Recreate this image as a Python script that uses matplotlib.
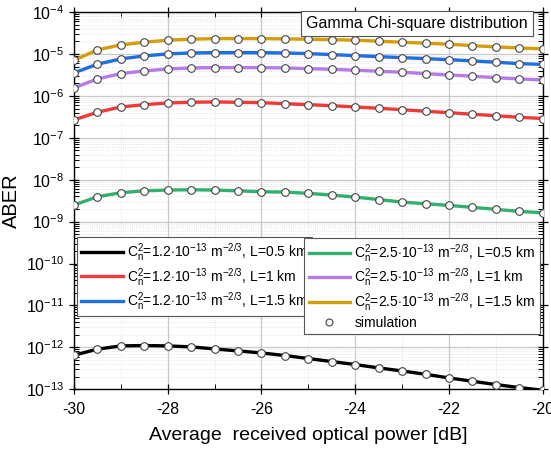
import numpy as np
import matplotlib
matplotlib.use("Agg")
import matplotlib.pyplot as plt
from matplotlib.ticker import MultipleLocator, LogLocator, NullFormatter
from matplotlib.lines import Line2D

plt.rcParams['font.family'] = ['Liberation Sans', 'DejaVu Sans']
plt.rcParams['mathtext.fontset'] = 'custom'
plt.rcParams['mathtext.rm'] = 'Liberation Sans'
plt.rcParams['mathtext.it'] = 'Liberation Sans'
plt.rcParams['axes.unicode_minus'] = False

power_db = [-30, -29.5, -29, -28.5, -28, -27.5, -27, -26.5, -26, -25.5, -25,
            -24.5, -24, -23.5, -23, -22.5, -22, -21.5, -21, -20.5, -20]

# log10(ABER)
log_c12_L05 = [-12.189, -12.045, -11.966, -11.957, -11.966, -11.990, -12.038, -12.086, -12.134, -12.196, -12.268,
               -12.339, -12.411, -12.492, -12.564, -12.643, -12.731, -12.810, -12.889, -12.961, -13.025]
log_c12_L1 = [-6.573, -6.389, -6.263, -6.208, -6.167, -6.151, -6.143, -6.151, -6.160, -6.184, -6.208,
              -6.232, -6.263, -6.294, -6.327, -6.366, -6.399, -6.437, -6.471, -6.509, -6.538]
log_c12_L15 = [-5.450, -5.243, -5.116, -5.044, -4.996, -4.973, -4.965, -4.965, -4.965, -4.973, -4.989,
               -5.013, -5.037, -5.061, -5.085, -5.109, -5.133, -5.164, -5.195, -5.228, -5.247]
log_c25_L05 = [-8.605, -8.406, -8.311, -8.263, -8.246, -8.239, -8.246, -8.263, -8.287, -8.294, -8.325,
               -8.366, -8.413, -8.473, -8.533, -8.573, -8.612, -8.659, -8.707, -8.755, -8.789]
log_c25_L1 = [-5.809, -5.594, -5.467, -5.403, -5.355, -5.331, -5.324, -5.324, -5.324, -5.331, -5.348,
              -5.362, -5.386, -5.410, -5.434, -5.467, -5.498, -5.529, -5.563, -5.594, -5.618]
log_c25_L15 = [-5.152, -4.901, -4.781, -4.717, -4.669, -4.645, -4.631, -4.631, -4.631, -4.638, -4.645,
               -4.655, -4.669, -4.693, -4.717, -4.741, -4.765, -4.798, -4.829, -4.853, -4.877]

labels_c12 = [r'C$_\mathregular{n}^\mathregular{2}$=1.2$\cdot$10$^{\mathregular{-13}}$ m$^{\mathregular{-2/3}}$, L=0.5 km',
              r'C$_\mathregular{n}^\mathregular{2}$=1.2$\cdot$10$^{\mathregular{-13}}$ m$^{\mathregular{-2/3}}$, L=1 km',
              r'C$_\mathregular{n}^\mathregular{2}$=1.2$\cdot$10$^{\mathregular{-13}}$ m$^{\mathregular{-2/3}}$, L=1.5 km']
labels_c25 = [r'C$_\mathregular{n}^\mathregular{2}$=2.5$\cdot$10$^{\mathregular{-13}}$ m$^{\mathregular{-2/3}}$, L=0.5 km',
              r'C$_\mathregular{n}^\mathregular{2}$=2.5$\cdot$10$^{\mathregular{-13}}$ m$^{\mathregular{-2/3}}$, L=1 km',
              r'C$_\mathregular{n}^\mathregular{2}$=2.5$\cdot$10$^{\mathregular{-13}}$ m$^{\mathregular{-2/3}}$, L=1.5 km']
colors_c12 = ['#000000', '#f03a3a', '#1f6fe0']
colors_c25 = ['#33b06e', '#b57ce6', '#d39d0c']

x = np.array(power_db)
fig = plt.figure(figsize=(5.51, 4.51), dpi=100)
ax = fig.add_axes([0.134, 0.137, 0.851, 0.836])

series_c12 = [log_c12_L05, log_c12_L1, log_c12_L15]
series_c25 = [log_c25_L05, log_c25_L1, log_c25_L15]

h12 = []
for s, c, lab in zip(series_c12, colors_c12, labels_c12):
    h, = ax.plot(x, 10 ** np.array(s), color=c, lw=2.4, label=lab, zorder=3)
    h12.append(h)
h25 = []
for s, c, lab in zip(series_c25, colors_c25, labels_c25):
    h, = ax.plot(x, 10 ** np.array(s), color=c, lw=2.4, label=lab, zorder=3)
    h25.append(h)
for s in series_c12 + series_c25:
    ax.plot(x, 10 ** np.array(s), ls='none', marker='o', ms=5.5, mfc='white',
            mec='#444444', mew=0.8, zorder=4)

ax.set_yscale('log')
ax.set_xlim(-30, -20)
ax.set_ylim(1e-13, 1e-4)

ax.xaxis.set_major_locator(MultipleLocator(2))
ax.xaxis.set_minor_locator(MultipleLocator(1))
ax.yaxis.set_major_locator(LogLocator(base=10, numticks=20))
ax.yaxis.set_minor_locator(LogLocator(base=10, subs=np.arange(2, 10), numticks=200))
ax.yaxis.set_minor_formatter(NullFormatter())

ax.tick_params(which='major', direction='inout', length=7, width=0.9, labelsize=11.5,
               top=True, right=True, labeltop=False, labelright=False)
ax.tick_params(which='minor', direction='in', length=3.5, width=0.7, top=True, right=True)
ax.tick_params(axis='x', which='major', pad=6)

ax.grid(which='major', color='#c8c8c8', lw=0.9, ls='-')
ax.grid(which='minor', color='#dcdcdc', lw=0.6, ls=':')
ax.set_axisbelow(True)
for sp in ax.spines.values():
    sp.set_linewidth(1.0)

ax.set_xlabel('Average  received optical power [dB]', fontsize=14, labelpad=7)
ax.set_ylabel('ABER', fontsize=14.5)
ax.yaxis.set_label_coords(-0.112, 0.5)

legkw = dict(fontsize=10, frameon=True, fancybox=False, framealpha=1, edgecolor='#555555',
             handlelength=3.0, handletextpad=0.3, labelspacing=0.2, borderpad=0.3,
             borderaxespad=0)
leg1 = ax.legend(handles=h12, loc='upper left', bbox_to_anchor=(0.0064, 0.404), **legkw)
leg1.get_frame().set_linewidth(0.8)
ax.add_artist(leg1)
sim_handle = Line2D([], [], ls='none', marker='o', ms=5, mfc='white', mec='#444444', mew=0.8)
leg2 = ax.legend(handles=h25 + [sim_handle], labels=labels_c25 + ['simulation'],
                 loc='upper right', bbox_to_anchor=(0.9936, 0.402), **legkw)
leg2.get_frame().set_linewidth(0.8)

ax.text(0.968, 0.99, 'Gamma Chi-square distribution', transform=ax.transAxes,
        ha='right', va='top', fontsize=11.5,
        bbox=dict(boxstyle='square,pad=0.3', fc='white', ec='#555555', lw=0.8), zorder=6)

fig.savefig('out.png', dpi=100)
